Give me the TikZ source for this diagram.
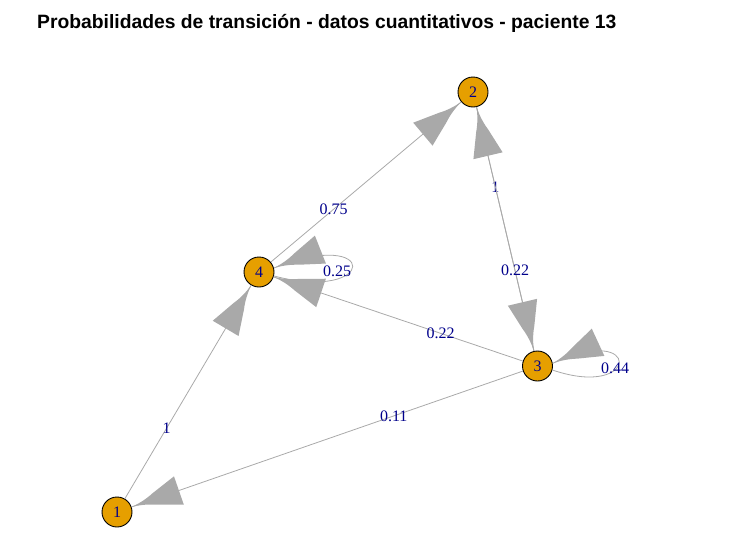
\documentclass[tikz,border=0pt]{standalone}
\usepackage{fontspec}
\setmainfont{Liberation Serif}
\newfontfamily\titlefont{Liberation Sans}
\usetikzlibrary{decorations.markings}
\definecolor{nodeorange}{RGB}{230,159,0}
\definecolor{edgegray}{RGB}{169,169,169}
\definecolor{labblue}{RGB}{0,0,139}
\tikzset{
  state/.style={circle,draw=black,line width=0.9pt,fill=nodeorange,minimum size=30pt,inner sep=0pt,text=labblue,font=\fontsize{16}{16}\selectfont},
  edge/.style={draw=edgegray,line width=0.8pt},
  head/.style={postaction={decorate,decoration={markings,mark=at position 0.9999 with {\fill[edgegray] (0,0) .. controls (-8,0.8) and (-16,2.5) .. (-24,6) -- (-50,15) -- (-50,-15) -- (-24,-6) .. controls (-16,-2.5) and (-8,-0.8) .. (0,0);}}}},
  prob/.style={text=labblue,font=\fontsize{16}{16}\selectfont,inner sep=0pt}
}
\begin{document}
\begin{tikzpicture}[x=1pt,y=-1pt]
\useasboundingbox (0,0) rectangle (734,552);
\node[anchor=base west,inner sep=0pt,font=\titlefont\bfseries\fontsize{19.3}{19.3}\selectfont] (title) at (37,28) {Probabilidades de transición - datos cuantitativos - paciente 13};

\node[state] (n1) at (117,512) {1};
\node[state] (n2) at (473,92) {2};
\node[state] (n3) at (537.5,366) {3};
\node[state] (n4) at (259,272) {4};

\draw[edge,head] (n1) -- node[prob,pos=0.33] (p14) {1} (n4);
\draw[edge,head] (n4) -- node[prob,pos=0.33] (p42) {0.75} (n2);
\draw[edge,head] (n2) -- node[prob,pos=0.33] (p23) {1} (n3);
\draw[edge,head] (n3) -- node[prob,pos=0.33] (p32) {0.22} (n2);
\draw[edge,head] (n3) -- node[prob,pos=0.33] (p34) {0.22} (n4);
\draw[edge,head] (n3) -- node[prob,pos=0.33] (p31) {0.11} (n1);
% loops
\draw[edge,head] (n4.-15) .. controls (378,303) and (380,226) .. (n4.15);
\node[prob] (p44) at (337,271) {0.25};
\draw[edge,head] (n3.-15) .. controls (640,400) and (643,321.5) .. (n3.10);
\node[prob] (p33) at (615,368) {0.44};
\end{tikzpicture}
\end{document}
